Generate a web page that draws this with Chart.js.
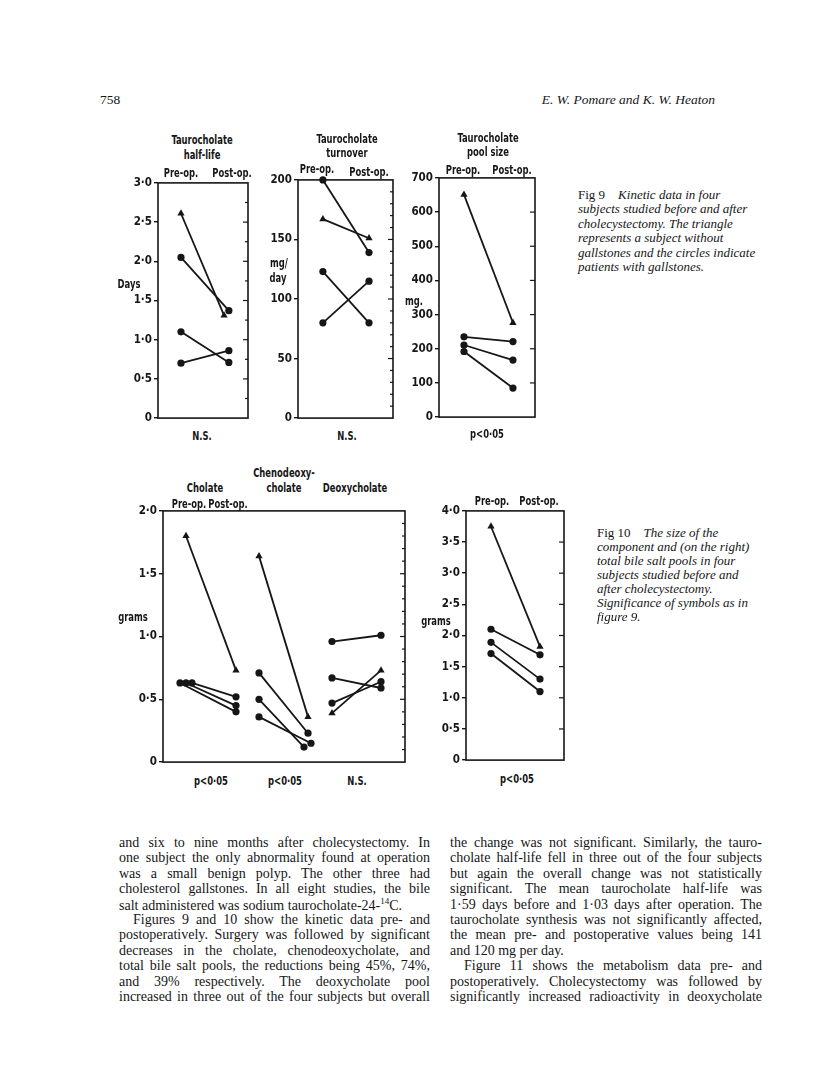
<!DOCTYPE html>
<html>
<head>
<meta charset="utf-8">
<script src="https://cdn.jsdelivr.net/npm/chart.js@4.4.1/dist/chart.umd.min.js"></script>
<style>
  body { margin: 0; width: 816px; height: 1075px; background: #fff; position: relative; overflow: hidden; }
  canvas { position: absolute; }
  .t { position: absolute; white-space: nowrap; color: #161616; }
  .lbl { font-family: 'DejaVu Sans Condensed', 'Liberation Sans Narrow', sans-serif; font-weight: bold; font-size: 13px; transform: translate(-50%, -50%) scaleX(0.72); }
  .cap { font-family: 'Liberation Serif', serif; font-style: italic; font-size: 13px; transform: translateY(-50%); }
  .cap b { font-style: normal; font-weight: normal; }
  .ln { position: absolute; font-family: 'Liberation Serif', serif; font-size: 14px; color: #161616; text-align: justify; text-align-last: justify; transform: translateY(-50%); }
  .ln.end { text-align-last: left; }
  .hdr { font-family: 'Liberation Serif', serif; font-size: 13.5px; transform: translateY(-50%); }
</style>
</head>
<body>
<canvas id="halfLife"></canvas>
<canvas id="turnover"></canvas>
<canvas id="poolSize"></canvas>
<canvas id="components"></canvas>
<canvas id="totalPool"></canvas>
<div id="texts"></div>
<script>
const INK = '#161616';

// subject 0 = no gallstones (triangle), 1-3 = gallstone patients (circles)
const subjectShape = ['triangle', 'circle', 'circle', 'circle'];

// Fig 9 - kinetic data
const halfLifePre   = [2.61, 2.05, 1.10, 0.70];
const halfLifePost  = [1.31, 1.37, 0.71, 0.86];
const turnoverPre   = [167, 200, 123, 80];
const turnoverPost  = [151, 139, 80, 115];
const poolPre       = [651, 235, 211, 192];
const poolPost      = [276, 221, 167, 85];

// Fig 10 - component pools (grams)
const cholatePre    = [1.80, 0.63, 0.63, 0.63];
const cholatePost   = [0.73, 0.40, 0.45, 0.52];
const chenoPre      = [1.64, 0.71, 0.50, 0.36];
const chenoPost     = [0.36, 0.23, 0.12, 0.15];
const deoxyPre      = [0.39, 0.96, 0.67, 0.47];
const deoxyPost     = [0.73, 1.01, 0.59, 0.64];
const totalPre      = [3.75, 2.10, 1.89, 1.71];
const totalPost     = [1.82, 1.69, 1.30, 1.10];

// x slots (pre-op = 0, post-op = 1 inside each group), small offsets where marks touch
const halfLifePostX = [0.9, 1, 1, 1];
const cholatePreX   = [0, -0.12, 0, 0.12];
const chenoPostX    = [2.44, 2.44, 2.36, 2.5];
const groupSlots    = { cholate: [0, 1], cheno: [1.46, 2.44], deoxy: [2.92, 3.9] };

const fmt = dec => v => v === 0 ? '0' : v.toFixed(dec).replace('.', '\u00b7');

const frame = {
  id: 'frame',
  beforeDatasetsDraw(chart, args, opts) {
    const { ctx, chartArea: a, scales: { y } } = chart;
    ctx.save();
    ctx.strokeStyle = INK;
    ctx.lineWidth = 1.6;
    ctx.strokeRect(a.left, a.top, a.width, a.height);
    // inward ticks on the right border
    const n = Math.round((y.max - y.min) / opts.minor);
    const every = Math.round(opts.major / opts.minor);
    ctx.lineWidth = 1.2;
    for (let k = 1; k < n; k++) {
      const py = y.getPixelForValue(y.min + k * opts.minor);
      const len = k % every === 0 ? 5 : 3;
      ctx.beginPath();
      ctx.moveTo(a.right, py);
      ctx.lineTo(a.right - len, py);
      ctx.stroke();
    }
    ctx.restore();
  }
};

function subjectSets(preX, pre, postX, post) {
  return pre.map((v, i) => ({
    data: [
      { x: Array.isArray(preX) ? preX[i] : preX, y: v },
      { x: Array.isArray(postX) ? postX[i] : postX, y: post[i] }
    ],
    borderColor: INK,
    backgroundColor: INK,
    borderWidth: 1.8,
    pointStyle: subjectShape[i],
    pointRadius: subjectShape[i] === 'triangle' ? 4.2 : 3.6,
    pointBorderWidth: 0,
    clip: false,
  }));
}

function panel(id, box, yMax, yStep, dec, xMin, xMax, ticks, datasets) {
  const axisW = 34, pad = 8;
  const el = document.getElementById(id);
  el.style.left = (box.left - axisW) + 'px';
  el.style.top = (box.top - pad) + 'px';
  el.style.width = (box.right - box.left + axisW + pad) + 'px';
  el.style.height = (box.bottom - box.top + 2 * pad) + 'px';
  el.width = box.right - box.left + axisW + pad;
  el.height = box.bottom - box.top + 2 * pad;

  new Chart(el, {
    type: 'line',
    data: { datasets },
    options: {
      responsive: false,
      animation: false,
      layout: { padding: { top: pad, bottom: pad, right: pad, left: 0 } },
      plugins: { legend: { display: false }, tooltip: { enabled: false }, frame: ticks },
      scales: {
        x: { type: 'linear', min: xMin, max: xMax, display: false },
        y: {
          min: 0, max: yMax,
          afterFit: s => { s.width = axisW; },
          border: { display: false },
          grid: { drawOnChartArea: false, drawTicks: true, tickLength: 4, color: INK, lineWidth: 1.4 },
          ticks: {
            stepSize: yStep, padding: 2, color: INK,
            font: { family: "'DejaVu Sans Condensed', sans-serif", weight: 'bold', size: 11.5 },
            callback: fmt(dec)
          }
        }
      }
    },
    plugins: [frame]
  });
}

panel('halfLife', { left: 158, top: 182, right: 248, bottom: 419 }, 3, 0.5, 1, -0.48, 1.4,
  { minor: 0.25, major: 0.5 }, subjectSets(0, halfLifePre, halfLifePostX, halfLifePost));
panel('turnover', { left: 298, top: 179, right: 393, bottom: 419 }, 200, 50, 0, -0.54, 1.52,
  { minor: 10, major: 50 }, subjectSets(0, turnoverPre, 1, turnoverPost));
panel('poolSize', { left: 439, top: 177, right: 535, bottom: 418 }, 700, 100, 0, -0.51, 1.45,
  { minor: 100, major: 100 }, subjectSets(0, poolPre, 1, poolPost));
panel('components', { left: 163, top: 510, right: 405, bottom: 763 }, 2, 0.5, 1, -0.46, 4.38,
  { minor: 0.1, major: 0.5 }, [
    ...subjectSets(cholatePreX, cholatePre, groupSlots.cholate[1], cholatePost),
    ...subjectSets(groupSlots.cheno[0], chenoPre, chenoPostX, chenoPost),
    ...subjectSets(groupSlots.deoxy[0], deoxyPre, groupSlots.deoxy[1], deoxyPost),
  ]);
panel('totalPool', { left: 466, top: 510, right: 564, bottom: 761 }, 4, 0.5, 1, -0.51, 1.49,
  { minor: 0.5, major: 0.5 }, subjectSets(0, totalPre, 1, totalPost));

// ---- text on the page ----
const labels = [
  ['Taurocholate', 202, 139], ['half-life', 202, 154], ['Pre-op.', 181, 172], ['Post-op.', 232, 172],
  ['Days', 129, 283], ['N.S.', 202, 435],
  ['Taurocholate', 347, 138], ['turnover', 347, 152], ['Pre-op.', 317, 168], ['Post-op.', 369, 171],
  ['mg/', 279, 262], ['day', 278, 277], ['N.S.', 347, 435],
  ['Taurocholate', 488, 137], ['pool size', 488, 151], ['Pre-op.', 463, 169], ['Post-op.', 512, 169],
  ['mg.', 414, 300], ['p<0\u00b705', 487, 433],
  ['Chenodeoxy-', 284, 472], ['Cholate', 205, 487], ['cholate', 284, 487], ['Deoxycholate', 355, 487],
  ['Pre-op.', 189, 503], ['Post-op.', 228, 503], ['grams', 133, 616],
  ['p<0\u00b705', 211, 780], ['p<0\u00b705', 285, 780], ['N.S.', 357, 780],
  ['Pre-op.', 492, 500], ['Post-op.', 539, 500], ['grams', 436, 620], ['p<0\u00b705', 517, 778],
];

const fig9Caption = [
  '<b>Fig 9</b>&nbsp;&nbsp;&nbsp; Kinetic data in four',
  'subjects studied before and after',
  'cholecystectomy. The triangle',
  'represents a subject without',
  'gallstones and the circles indicate',
  'patients with gallstones.'
];
const fig10Caption = [
  '<b>Fig 10</b>&nbsp;&nbsp;&nbsp; The size of the',
  'component and (on the right)',
  'total bile salt pools in four',
  'subjects studied before and',
  'after cholecystectomy.',
  'Significance of symbols as in',
  'figure 9.'
];

const leftColumn = [
  'and six to nine months after cholecystectomy. In',
  'one subject the only abnormality found at operation',
  'was a small benign polyp. The other three had',
  'cholesterol gallstones. In all eight studies, the bile',
  '!salt administered was sodium taurocholate-24-<sup style="font-size:9px">14</sup>C.',
  '>Figures 9 and 10 show the kinetic data pre- and',
  'postoperatively. Surgery was followed by significant',
  'decreases in the cholate, chenodeoxycholate, and',
  'total bile salt pools, the reductions being 45%, 74%,',
  'and 39% respectively. The deoxycholate pool',
  'increased in three out of the four subjects but overall'
];
const rightColumn = [
  'the change was not significant. Similarly, the tauro-',
  'cholate half-life fell in three out of the four subjects',
  'but again the overall change was not statistically',
  'significant. The mean taurocholate half-life was',
  '1\u00b759 days before and 1\u00b703 days after operation. The',
  'taurocholate synthesis was not significantly affected,',
  'the mean pre- and postoperative values being 141',
  '!and 120 mg per day.',
  '>Figure 11 shows the metabolism data pre- and',
  'postoperatively. Cholecystectomy was followed by',
  'significantly increased radioactivity in deoxycholate'
];

const host = document.getElementById('texts');
function put(html, cls, x, y, extra) {
  const d = document.createElement('div');
  d.className = cls;
  d.innerHTML = html;
  d.style.left = x + 'px';
  d.style.top = y + 'px';
  if (extra) Object.assign(d.style, extra);
  host.appendChild(d);
}

labels.forEach(([s, x, y]) => put(s.replace('<', '&lt;'), 't lbl', x, y));
fig9Caption.forEach((s, i) => put(s, 't cap', 578, 195 + i * 14.4));
fig10Caption.forEach((s, i) => put(s, 't cap', 597, 533 + i * 14));

function column(lines, x, width) {
  lines.forEach((s, i) => {
    let cls = 'ln', left = x, w = width;
    if (s[0] === '!') { cls += ' end'; s = s.slice(1); }
    if (s[0] === '>') { s = s.slice(1); left = x + 14; w = width - 14; }
    put(s, cls, left, 843 + i * 15.4, { width: w + 'px' });
  });
}
column(leftColumn, 119, 311);
column(rightColumn, 450, 312);

put('758', 't hdr', 100, 100);
put('<i>E. W. Pomare and K. W. Heaton</i>', 't hdr', 0, 100, { left: 'auto', right: (816 - 715) + 'px' });
</script>
</body>
</html>
